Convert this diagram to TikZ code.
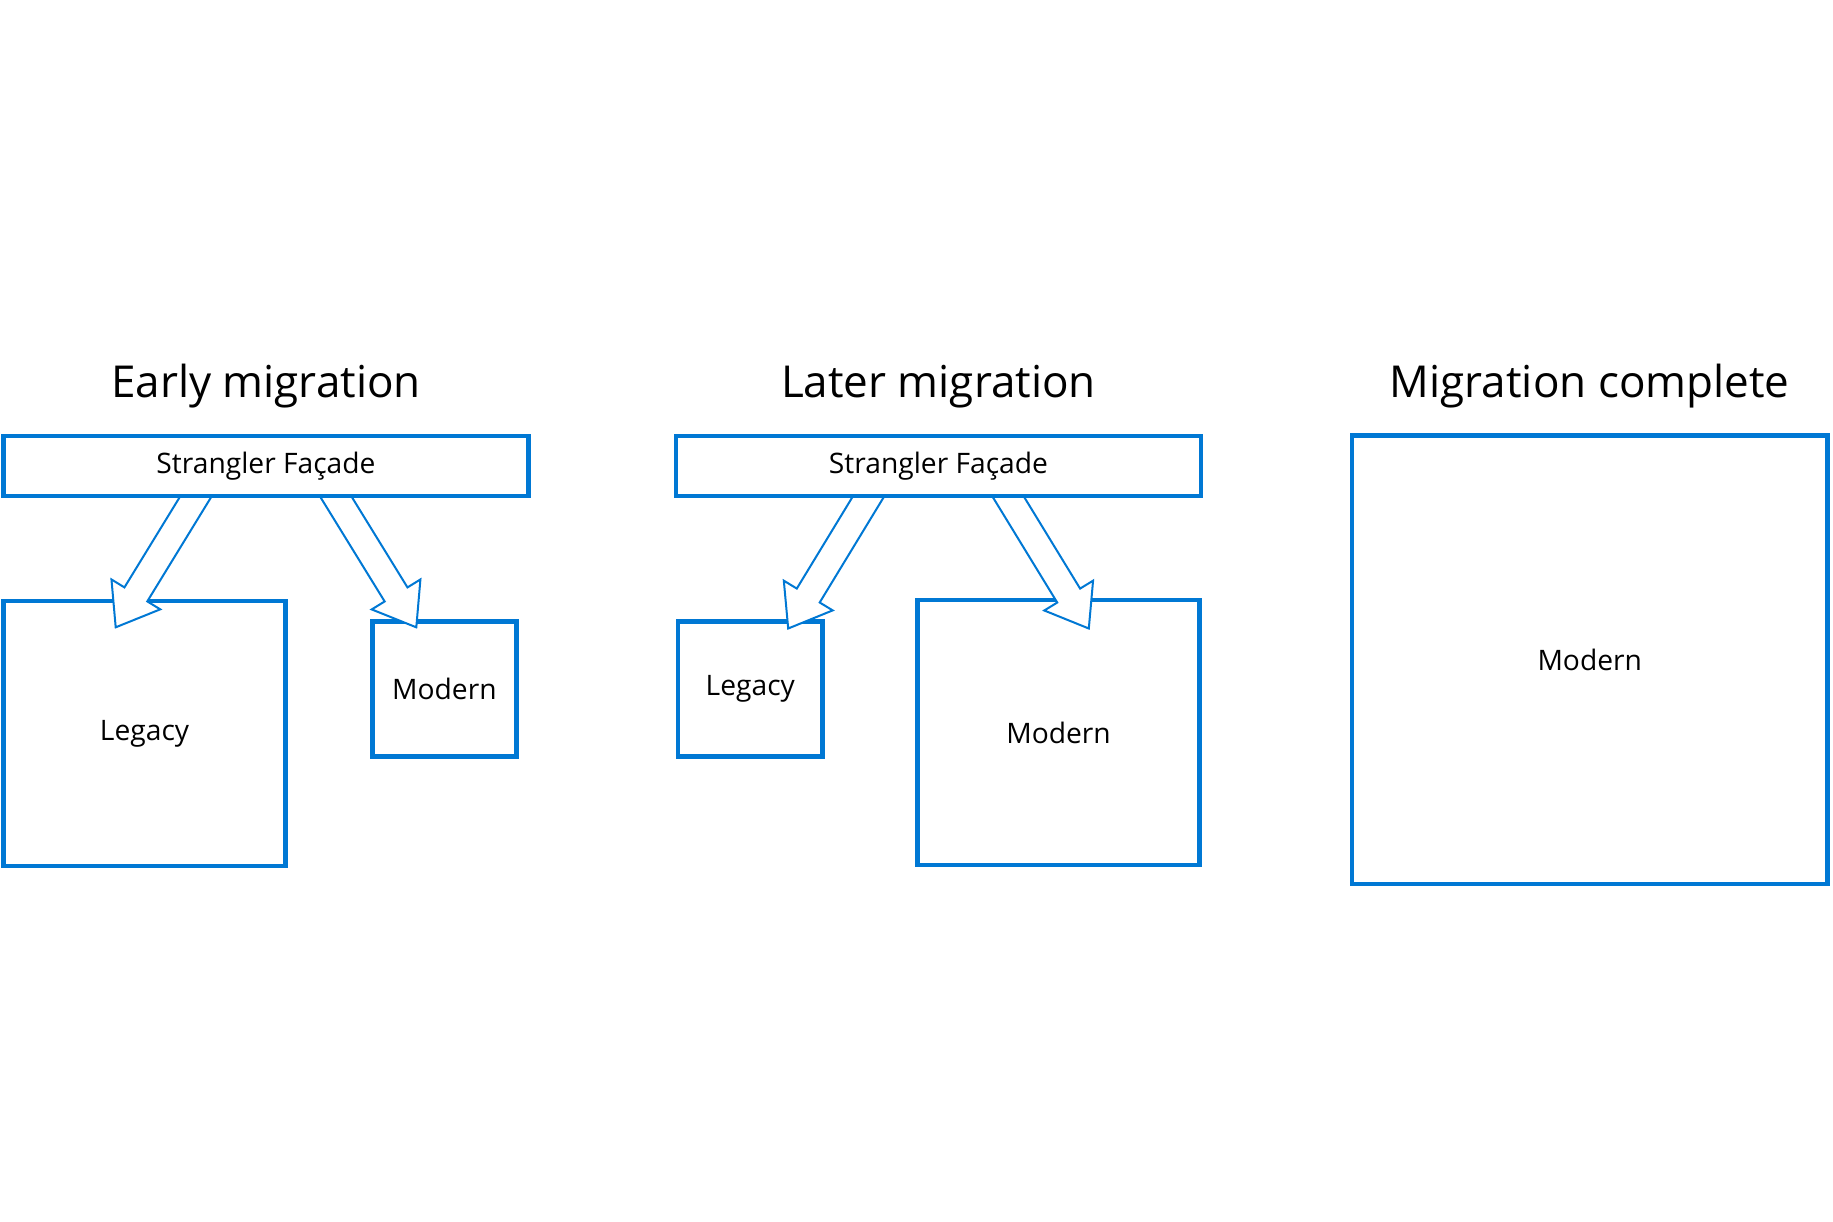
\documentclass[tikz,border=0pt]{standalone}
\usepackage{fontspec}
\setmainfont{Open Sans}
\usepackage{tikz}
\usetikzlibrary{calc,backgrounds}
\definecolor{azure}{RGB}{0,120,212}

\begin{document}
\begin{tikzpicture}[x=0.5pt, y=-0.5pt,
	box/.style={draw=azure, line width=2.25pt, fill=white, inner sep=0pt, font=\fontsize{14.1}{16}\selectfont},
	title/.style={anchor=base, font=\fontsize{22}{26}\selectfont},
	blockarrow/.style={draw=azure, line width=1pt, fill=white, to path={
		($(\tikztostart)!6.7pt!90:(\tikztotarget)$)
		-- ($($(\tikztotarget)!19.3pt!(\tikztostart)$)!6.7pt!90:(\tikztotarget)$)
		-- ($($(\tikztotarget)!19.3pt!(\tikztostart)$)!14.3pt!90:(\tikztotarget)$)
		-- (\tikztotarget)
		-- ($($(\tikztotarget)!19.3pt!(\tikztostart)$)!14.3pt!-90:(\tikztotarget)$)
		-- ($($(\tikztotarget)!19.3pt!(\tikztostart)$)!6.7pt!-90:(\tikztotarget)$)
		-- ($(\tikztostart)!6.7pt!-90:(\tikztotarget)$) -- cycle}}]
\useasboundingbox (0,0) rectangle (1833,1222);

% titles
\node[title] (t-early) at (266,397) {Early migration};
\node[title] (t-later) at (938.5,397) {Later migration};
\node[title] (t-done) at (1589.7,397) {Migration complete};

% facades
\node[box, minimum width=262.5pt, minimum height=30pt] (f1) at (266,466) {Strangler Façade};
\node[box, minimum width=262.5pt, minimum height=30pt] (f2) at (938.5,466) {Strangler Façade};

\begin{scope}[on background layer]
\node[box, minimum width=141.1pt, minimum height=132.5pt] (leg1) at (144.6,733.5) {Legacy};
\node[box, minimum width=72.1pt, minimum height=67.4pt] (mod1) at (444.4,689.1) {Modern};
\node[box, minimum width=72.1pt, minimum height=67.4pt] (leg2) at (750.3,689.1) {Legacy};
\node[box, minimum width=141.1pt, minimum height=132.5pt] (mod2) at (1058.5,732.5) {Modern};
\node[box, minimum width=237.65pt, minimum height=224.35pt] (mod3) at (1589.7,659.7) {Modern};

\coordinate (s1) at (214.5,466); \coordinate (a1) at (115.7,627.3);
\coordinate (s2) at (317,466);   \coordinate (a2) at (416.3,627.3);
\coordinate (s3) at (887,466);   \coordinate (a3) at (788.2,628.5);
\coordinate (s4) at (989.5,466); \coordinate (a4) at (1088.8,628.5);
\path
(s1) edge[blockarrow] (a1)
(s2) edge[blockarrow] (a2)
(s3) edge[blockarrow] (a3)
(s4) edge[blockarrow] (a4)
;
\end{scope}
\end{tikzpicture}
\end{document}
